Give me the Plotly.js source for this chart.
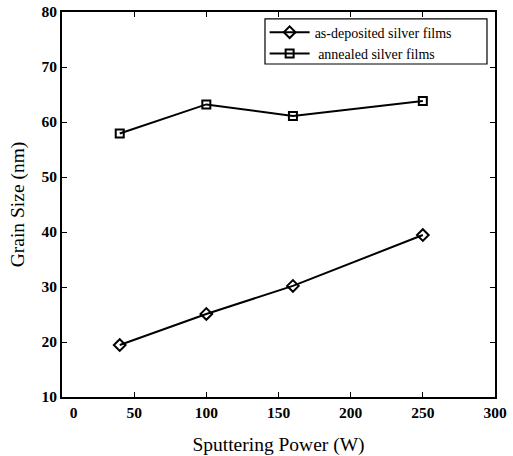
<!DOCTYPE html>
<html>
<head>
<meta charset="utf-8">
<script src="https://cdn.plot.ly/plotly-3.0.1.min.js"></script>
<style>html,body{margin:0;padding:0;background:#fff;}#chart{width:513px;height:456px;}</style>
</head>
<body>
<div id="chart"></div>
<script>
var power = [40, 100, 160, 250];
var asDeposited = [19.45, 25.1, 30.2, 39.45];
var annealed = [57.9, 63.2, 61.1, 63.8];
var seriesNames = ['as-deposited silver films', ' annealed silver films'];
var xTickVals = [0, 50, 100, 150, 200, 250, 300];
var xTickText = ['\u2003\u20020', '50', '100', '150', '200', '250', '300'];
var yTickVals = [10, 20, 30, 40, 50, 60, 70, 80];

var SERIF = "Liberation Serif";

var traces = [
  {
    x: power, y: asDeposited, name: seriesNames[0],
    mode: 'lines+markers', type: 'scatter',
    line: {color: '#000', width: 2},
    marker: {symbol: 'diamond-open', size: 9, color: '#000', line: {width: 2, color: '#000'}}
  },
  {
    x: power, y: annealed, name: seriesNames[1],
    mode: 'lines+markers', type: 'scatter',
    line: {color: '#000', width: 2},
    marker: {symbol: 'square-open', size: 8, color: '#000', line: {width: 2, color: '#000'}}
  }
];

var axisCommon = {
  showgrid: false, zeroline: false, showline: true, linecolor: '#000', linewidth: 2,
  mirror: 'allticks', ticks: 'inside', ticklen: 5, tickwidth: 1, tickcolor: '#000',
  tickfont: {family: SERIF, size: 15.5, color: '#000', weight: 'bold'}
};

var layout = {
  width: 513, height: 456,
  margin: {l: 62, r: 18, t: 12, b: 59},
  font: {family: SERIF, color: '#000'},
  paper_bgcolor: '#fff', plot_bgcolor: '#fff',
  showlegend: true,
  legend: {
    x: 0.468, y: 0.988, xanchor: 'left', yanchor: 'top',
    borderwidth: 0, bgcolor: 'rgba(0,0,0,0)',
    font: {family: SERIF, size: 14, color: '#000'},
    tracegroupgap: 0, itemwidth: 40
  },
  shapes: [{
    type: 'rect', xref: 'paper', yref: 'paper', layer: 'below',
    x0: 0.4688, x1: 0.9815, y0: 0.865, y1: 0.982,
    line: {color: '#000', width: 1.2}, fillcolor: 'rgba(0,0,0,0)'
  }],
  xaxis: Object.assign({}, axisCommon, {
    range: [0, 300], tickmode: 'array', tickvals: xTickVals, ticktext: xTickText,
    title: {text: 'Sputtering Power (W)', standoff: 18,
      font: {family: SERIF, size: 19.5, color: '#000'}}
  }),
  yaxis: Object.assign({}, axisCommon, {
    range: [10, 80], tickmode: 'array', tickvals: yTickVals,
    title: {text: 'Grain Size (nm)', standoff: 12,
      font: {family: SERIF, size: 19.5, color: '#000'}}
  })
};

Plotly.newPlot('chart', traces, layout, {displayModeBar: false, staticPlot: true});
</script>
</body>
</html>
